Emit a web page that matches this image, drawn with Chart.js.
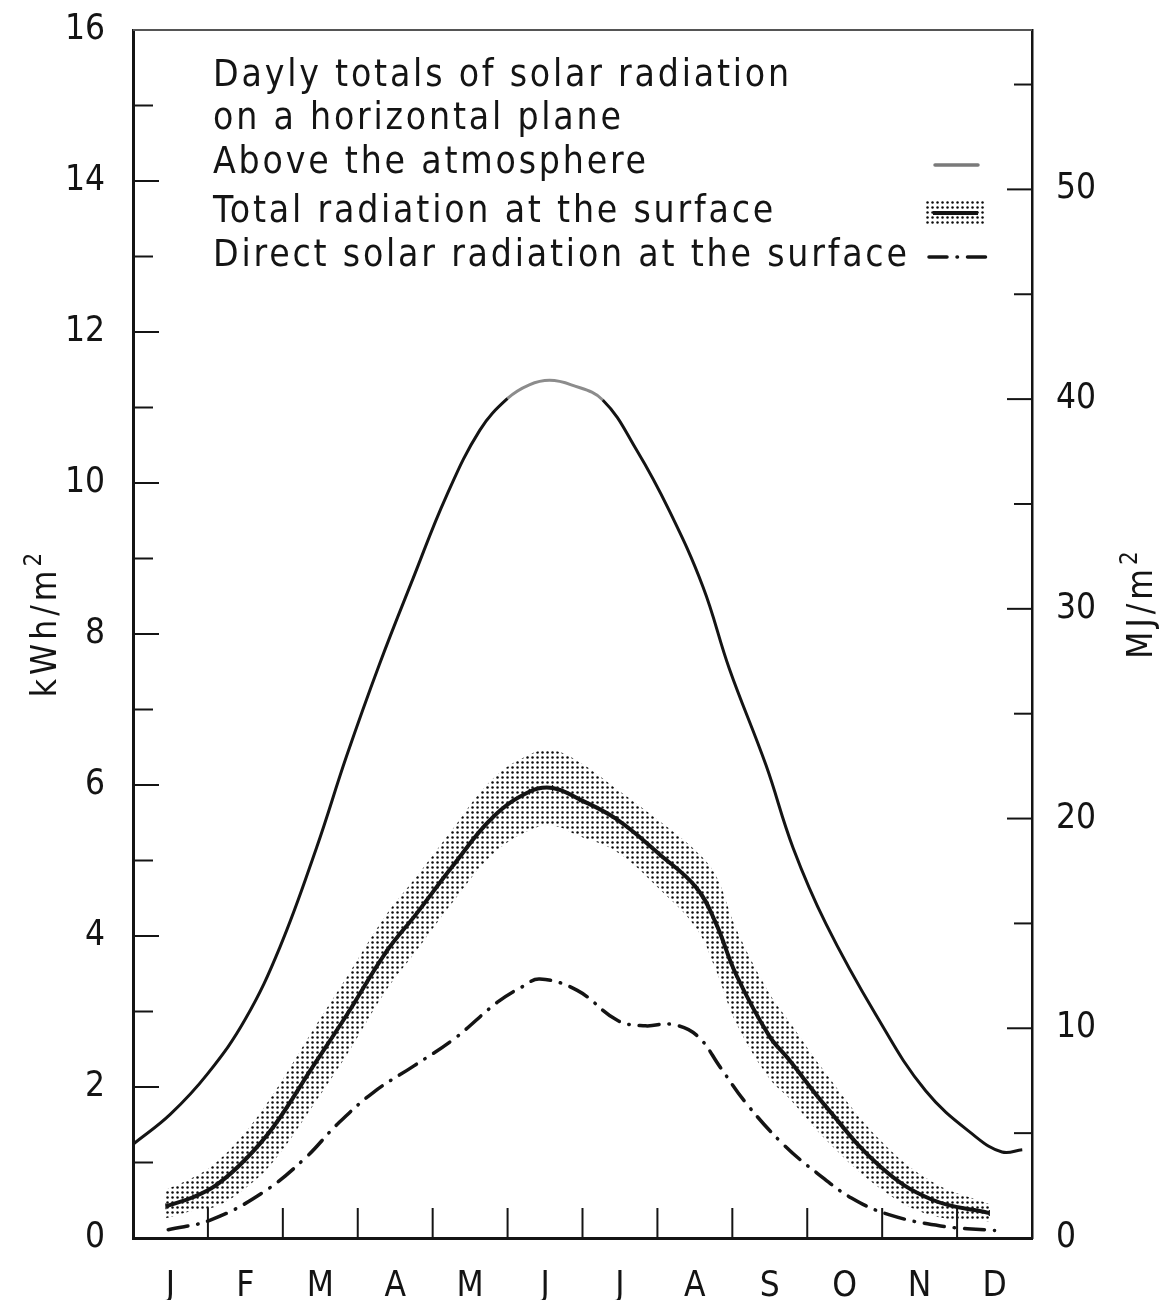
<!DOCTYPE html>
<html>
<head>
<meta charset="utf-8">
<title>Daily totals of solar radiation</title>
<script src="https://cdn.jsdelivr.net/npm/chart.js@4.4.1/dist/chart.umd.min.js"></script>
<style>
  html, body { margin: 0; padding: 0; background: #ffffff; }
  #wrap { width: 1162px; height: 1300px; position: relative; }
</style>
</head>
<body>
<div id="wrap"><canvas id="chart" width="1162" height="1300"></canvas></div>
<script>
// Month letters, centred in each month interval (0 = 1 January, 12 = 31 December)
const months = ['J', 'F', 'M', 'A', 'M', 'J', 'J', 'A', 'S', 'O', 'N', 'D'];

// Left axis ticks (kWh/m²) and right axis ticks (MJ/m²)
const kwhTicks = [0, 2, 4, 6, 8, 10, 12, 14, 16];
const mjTicks = [0, 10, 20, 30, 40, 50];

// Above the atmosphere, kWh/m² per day
const atmosMonth = [0, 0.5, 1.0, 1.5, 1.96, 2.45, 2.85, 3.29, 3.74, 4.18, 4.63, 5.0, 5.29, 5.56, 5.85, 6.27, 6.72, 7.16, 7.61, 7.96, 8.45, 8.81, 9.25, 9.92, 10.58, 11.25, 11.6, 11.87];
const atmosValue = [1.24, 1.64, 2.18, 2.9, 3.85, 5.17, 6.38, 7.6, 8.74, 9.82, 10.7, 11.12, 11.3, 11.36, 11.3, 11.1, 10.44, 9.63, 8.62, 7.54, 6.26, 5.17, 4.16, 2.95, 1.95, 1.34, 1.14, 1.17];

// Total radiation at the surface, with the spread band around it
const totalMonth = [0.44, 0.8, 1.11, 1.5, 1.88, 2.4, 2.87, 3.38, 3.78, 4.27, 4.8, 5.29, 5.6, 5.96, 6.45, 7.03, 7.52, 7.78, 8.05, 8.49, 8.75, 9.25, 9.97, 10.66, 11.43];
const totalValue = [0.42, 0.54, 0.70, 1.04, 1.48, 2.27, 2.98, 3.79, 4.29, 4.93, 5.57, 5.91, 5.96, 5.81, 5.55, 5.08, 4.64, 4.17, 3.49, 2.68, 2.37, 1.74, 0.95, 0.51, 0.33];
const bandTop    = [0.64, 0.80, 1.00, 1.40, 1.92, 2.75, 3.48, 4.28, 4.78, 5.42, 6.08, 6.40, 6.46, 6.30, 5.95, 5.52, 5.12, 4.80, 4.10, 3.25, 2.88, 2.18, 1.30, 0.75, 0.45];
const bandBottom = [0.26, 0.36, 0.42, 0.66, 1.02, 1.75, 2.45, 3.28, 3.80, 4.45, 5.08, 5.40, 5.46, 5.32, 5.12, 4.62, 4.10, 3.55, 2.85, 2.12, 1.86, 1.30, 0.66, 0.30, 0.22];

// Direct solar radiation at the surface
const directMonth = [0.47, 1.04, 1.73, 2.3, 2.72, 3.21, 3.75, 4.29, 4.86, 5.2, 5.43, 5.93, 6.47, 6.84, 7.19, 7.53, 7.84, 8.18, 8.68, 9.13, 9.59, 10.09, 10.78, 11.5];
const directValue = [0.11, 0.24, 0.60, 1.06, 1.50, 1.93, 2.28, 2.64, 3.12, 3.33, 3.43, 3.28, 2.88, 2.81, 2.83, 2.68, 2.26, 1.79, 1.24, 0.86, 0.53, 0.31, 0.16, 0.10];

const KWH_TO_MJ = 3.6;
const FONT = '"DejaVu Sans Condensed", "Liberation Sans Narrow", "Liberation Sans", Arial, sans-serif';
const FS = 35;
const KEY_FS = 37;
const INK = '#141414';

const pts = (xs, ys) => xs.map((x, i) => ({ x, y: ys[i] }));

const canvas = document.getElementById('chart');
const ctx = canvas.getContext('2d');

// dotted screen for the spread band
function stipple(c) {
  const t = document.createElement('canvas');
  t.width = 5; t.height = 5;
  const g = t.getContext('2d');
  g.fillStyle = '#0c0c0c';
  g.beginPath(); g.arc(2.5, 2.5, 1.25, 0, Math.PI * 2); g.fill();
  return c.createPattern(t, 'repeat');
}
const dots = stipple(ctx);

function line(c, x1, y1, x2, y2) {
  c.beginPath(); c.moveTo(x1, y1); c.lineTo(x2, y2); c.stroke();
}

// fixed axis sizes so the plot frame sits where it should
function fixSize(prop, size) {
  return s => {
    s[prop] = size;
    s.paddingTop = 0; s.paddingBottom = 0; s.paddingLeft = 0; s.paddingRight = 0;
  };
}

// frame top edge and inward tick marks
const frame = {
  id: 'frame',
  afterDatasetsDraw(chart) {
    const { ctx: c, chartArea: a, scales } = chart;
    c.save();
    c.strokeStyle = '#555'; c.lineWidth = 2;
    line(c, a.left, a.top, a.right, a.top);
    c.strokeStyle = INK; c.lineWidth = 2;
    for (let v = 1; v < 16; v++) {
      const y = scales.y.getPixelForValue(v);
      line(c, a.left, y, a.left + (v % 2 === 0 ? 26 : 20), y);
    }
    for (let v = 5; v <= 55; v += 5) {
      const y = scales.y2.getPixelForValue(v);
      line(c, a.right - (v % 10 === 0 ? 25 : 18), y, a.right, y);
    }
    for (let m = 1; m < 12; m++) {
      const x = scales.x.getPixelForValue(m);
      line(c, x, a.bottom, x, a.bottom - 30);
    }
    c.restore();
  }
};

// unit label with a raised "2", written bottom to top
function unitLabel(c, base, cx, cy, spacing) {
  c.save();
  c.translate(cx, cy); c.rotate(-Math.PI / 2);
  c.fillStyle = INK;
  c.textBaseline = 'alphabetic'; c.textAlign = 'left';
  c.font = FS + 'px ' + FONT;
  if ('letterSpacing' in c) c.letterSpacing = spacing + 'px';
  const w1 = c.measureText(base).width;
  c.font = Math.round(FS * 0.68) + 'px ' + FONT;
  if ('letterSpacing' in c) c.letterSpacing = '0px';
  const w2 = c.measureText('2').width;
  const x0 = -(w1 + w2) / 2;
  c.font = FS + 'px ' + FONT;
  if ('letterSpacing' in c) c.letterSpacing = spacing + 'px';
  c.fillText(base, x0, 12);
  c.font = Math.round(FS * 0.68) + 'px ' + FONT;
  if ('letterSpacing' in c) c.letterSpacing = '0px';
  c.fillText('2', x0 + w1, -3);
  c.restore();
}

const axisTitles = {
  id: 'axisTitles',
  afterDraw(chart) {
    unitLabel(chart.ctx, 'kWh/m', 44, 625, 4);
    unitLabel(chart.ctx, 'MJ/m', 1140, 605, 4);
  }
};

// key in the upper part of the plot
const key = {
  id: 'key',
  afterDraw(chart) {
    const c = chart.ctx;
    const lines = [
      'Dayly totals of solar radiation',
      'on a horizontal plane',
      'Above the atmosphere',
      'Total radiation at the surface',
      'Direct solar radiation at the surface'
    ];
    const ys = [76, 119, 163, 212, 256];
    c.save();
    c.fillStyle = INK;
    c.font = KEY_FS + 'px ' + FONT;
    c.textBaseline = 'middle'; c.textAlign = 'left';
    const longest = lines[4];
    const w0 = c.measureText(longest).width;
    if ('letterSpacing' in c) {
      const sp = Math.max(0, (694 - w0) / (longest.length - 1));
      c.letterSpacing = sp.toFixed(2) + 'px';
    }
    lines.forEach((t, i) => c.fillText(t, 213, ys[i]));
    c.restore();

    c.save();
    // above the atmosphere
    c.strokeStyle = '#7a7a7a'; c.lineWidth = 3.5; c.lineCap = 'round';
    line(c, 935, 165, 978, 165);
    // total radiation: dotted patch with line
    c.fillStyle = dots;
    c.fillRect(925, 199, 61, 27);
    c.strokeStyle = INK; c.lineWidth = 4; c.lineCap = 'butt';
    line(c, 933, 213, 978, 213);
    // direct radiation: dash-dot
    c.lineWidth = 3.5; c.lineCap = 'round';
    c.setLineDash([18, 10, 0.5, 10]);
    line(c, 929, 257, 987, 257);
    c.restore();
  }
};

const smooth = { tension: 0.4, pointRadius: 0, fill: false };

new Chart(ctx, {
  type: 'line',
  data: {
    datasets: [
      Object.assign({}, smooth, {
        label: 'Above the atmosphere',
        data: pts(atmosMonth, atmosValue),
        borderColor: INK,
        borderWidth: 3,
        order: 1,
        segment: {
          borderColor: s => (s.p0.parsed.x >= 5.0 && s.p1.parsed.x <= 6.3) ? '#8c8c8c' : undefined
        }
      }),
      Object.assign({}, smooth, {
        label: 'spread upper',
        data: pts(totalMonth, bandTop),
        borderWidth: 0,
        borderColor: 'rgba(0,0,0,0)',
        backgroundColor: dots,
        fill: '+1',
        order: 5
      }),
      Object.assign({}, smooth, {
        label: 'spread lower',
        data: pts(totalMonth, bandBottom),
        borderWidth: 0,
        borderColor: 'rgba(0,0,0,0)',
        order: 5
      }),
      Object.assign({}, smooth, {
        label: 'Total radiation at the surface',
        data: pts(totalMonth, totalValue),
        borderColor: INK,
        borderWidth: 4,
        pointRadius: 3,
        pointStyle: 'line',
        rotation: 90,
        pointBorderWidth: 1.2,
        pointBorderColor: INK,
        order: 1
      }),
      Object.assign({}, smooth, {
        label: 'Direct solar radiation at the surface',
        data: pts(directMonth, directValue),
        borderColor: INK,
        borderWidth: 3.5,
        borderDash: [20, 10, 0.5, 10],
        borderCapStyle: 'round',
        order: 1
      })
    ]
  },
  options: {
    responsive: false,
    animation: false,
    devicePixelRatio: 1,
    layout: { padding: { top: 30, left: 0, right: 0, bottom: 0 } },
    plugins: { legend: { display: false }, tooltip: { enabled: false } },
    scales: {
      x: {
        type: 'linear', position: 'bottom', min: 0, max: 12,
        grid: { display: false, drawTicks: false },
        border: { display: true, width: 3, color: INK },
        afterBuildTicks: s => { s.ticks = months.map((_, i) => ({ value: i + 0.5 })); },
        afterFit: fixSize('height', 62),
        ticks: {
          autoSkip: false, maxRotation: 0, padding: 28, color: INK,
          font: { family: FONT, size: FS },
          callback: v => months[Math.floor(v)]
        }
      },
      y: {
        type: 'linear', position: 'left', min: 0, max: 16,
        grid: { display: false, drawTicks: false },
        border: { display: true, width: 3, color: INK },
        afterBuildTicks: s => { s.ticks = kwhTicks.map(v => ({ value: v })); },
        afterFit: fixSize('width', 133),
        ticks: { padding: 28, color: INK, font: { family: FONT, size: FS } }
      },
      y2: {
        type: 'linear', position: 'right', min: 0, max: 16 * KWH_TO_MJ,
        grid: { display: false, drawTicks: false },
        border: { display: true, width: 2.5, color: INK },
        afterBuildTicks: s => { s.ticks = mjTicks.map(v => ({ value: v })); },
        afterFit: fixSize('width', 130),
        ticks: { padding: 24, color: INK, font: { family: FONT, size: FS } }
      }
    }
  },
  plugins: [frame, axisTitles, key]
});
</script>
</body>
</html>
